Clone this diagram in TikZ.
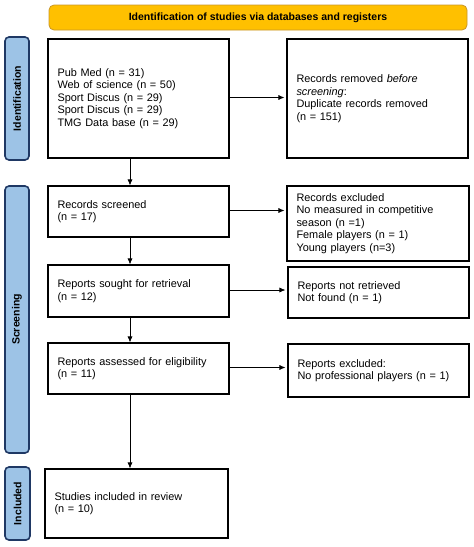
\documentclass[tikz,border=0pt]{standalone}
\usepackage{fontspec}
\setmainfont{Liberation Sans}
\usetikzlibrary{arrows.meta}
\definecolor{bandaoro}{RGB}{255,192,0}
\definecolor{bordooro}{RGB}{200,150,40}
\definecolor{fasciablu}{RGB}{157,195,230}
\definecolor{bordoblu}{RGB}{31,56,100}
\tikzset{
  box/.style={draw=black, line width=1.1pt, fill=white, inner xsep=9.5pt, inner ysep=0pt,
    align=left, font=\fontsize{10.9}{12.6}\selectfont},
  fascia/.style={draw=bordoblu, line width=1.6pt, fill=fasciablu, rounded corners=4pt,
    rotate=90, inner sep=0pt, font=\bfseries\fontsize{10.5}{12}\selectfont},
  freccia/.style={-{Latex[length=6pt,width=5pt]}, line width=0.7pt}
}
\begin{document}
\begin{tikzpicture}[x=1pt,y=1pt]
        \useasboundingbox (0,0) rectangle (474,-547);
        % Titolo
        \node[draw=bordooro, fill=bandaoro, line width=0.8pt, rounded corners=5pt,
          minimum width=418pt, minimum height=25pt, font=\bfseries\fontsize{10.5}{12}\selectfont]
          (banner) at (258,-17.5) {Identification of studies via databases and registers};
        % Fasce laterali
        \node[fascia, minimum width=123pt, minimum height=24pt] (fid) at (17,-98.5) {Identification};
        \node[fascia, minimum width=267pt, minimum height=24pt] (fscr) at (17,-319.5) {Screening};
        \node[fascia, minimum width=73pt, minimum height=25pt] (finc) at (17.5,-503.5) {Included};
        % Colonna sinistra
        \node[box, minimum height=119pt, text width=162pt] (ident) at (138.5,-98.5)
          {Pub Med (n = 31)\\Web of science (n = 50)\\Sport Discus (n = 29)\\Sport Discus (n = 29)\\TMG Data base (n = 29)};
        \node[box, minimum height=51pt, text width=162pt] (screened) at (138.5,-211.5)
          {Records screened\\(n = 17)};
        \node[box, minimum height=52pt, text width=162pt] (sought) at (138.5,-291)
          {Reports sought for retrieval\\(n = 12)};
        \node[box, minimum height=51pt, text width=162pt] (assessed) at (138.5,-368.5)
          {Reports assessed for eligibility\\(n = 11)};
        \node[box, minimum height=69pt, text width=164pt] (included) at (136.5,-503.5)
          {Studies included in review\\(n = 10)};
        % Colonna destra
        \node[box, minimum height=119pt, text width=162pt] (removed) at (377.5,-98.5)
          {Records removed \textit{before}\\\textit{screening}:\\Duplicate records removed\\(n = 151)};
        \node[box, minimum height=75pt, text width=163pt] (excluded) at (378,-223.5)
          {Records excluded\\No measured in competitive\\season (n =1)\\Female players (n = 1)\\Young players (n=3)};
        \node[box, minimum height=51pt, text width=162pt] (notret) at (378.5,-292.5)
          {Reports not retrieved\\Not found (n = 1)};
        \node[box, minimum height=53pt, text width=162pt] (repexcl) at (378.5,-370.5)
          {Reports excluded:\\No professional players (n = 1)};
        % Frecce
        \coordinate (asse) at (130,0);
        \foreach \a/\b in {ident/screened, screened/sought, sought/assessed, assessed/included}
            \draw[freccia] (\a.south -| asse) -- (\b.north -| asse);
        \foreach \a/\b in {ident/removed, screened/excluded, sought/notret, assessed/repexcl}
            \draw[freccia, shorten >=2pt] ([yshift=1pt]\a.east) -- ([yshift=1pt]\a.east -| \b.west);
    \end{tikzpicture}
\end{document}
